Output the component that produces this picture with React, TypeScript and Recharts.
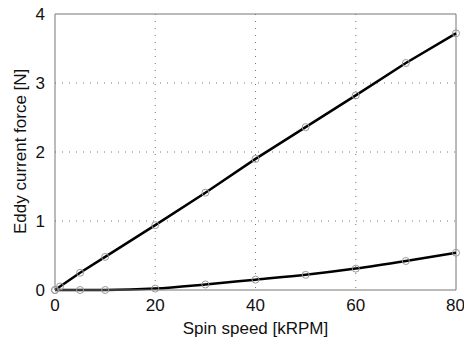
import { LineChart, Line, XAxis, YAxis, CartesianGrid, ReferenceLine } from "recharts"

const speedUpper = [0, 1, 5, 10, 20, 30, 40, 50, 60, 70, 80]
const forceUpper = [0, 0.05, 0.25, 0.48, 0.94, 1.41, 1.9, 2.36, 2.82, 3.29, 3.72]
const speedLower = [0, 5, 10, 20, 30, 40, 50, 60, 70, 80]
const forceLower = [0, 0, 0, 0.02, 0.08, 0.15, 0.22, 0.31, 0.42, 0.54]

const xTicks = [0, 20, 40, 60, 80]
const yTicks = [0, 1, 2, 3, 4]

const upper = speedUpper.map((x, i) => ({ x, y: forceUpper[i] }))
const lower = speedLower.map((x, i) => ({ x, y: forceLower[i] }))

const FONT = "'Liberation Sans', Arial, sans-serif"
const dot = { r: 3.5, stroke: "#999", strokeWidth: 1, fill: "none" }

export default function App() {
  return (
    <div style={{ position: "absolute", left: 0, top: 0, fontFamily: FONT }}>
      <LineChart width={464} height={341} margin={{ top: 14, right: 8, left: 0, bottom: 0 }}>
        <CartesianGrid xAxisId="b" yAxisId="l" stroke="#777" strokeDasharray="1 6" horizontalValues={[1, 2, 3]} verticalValues={[20, 40, 60]} />
        <XAxis
          xAxisId="b"
          type="number"
          dataKey="x"
          domain={[0, 80]}
          ticks={xTicks}
          height={51}
          tickLine={false}
          axisLine={{ stroke: "#777" }}
          tick={{ fill: "#111", fontSize: 17, fontFamily: FONT }}
          tickMargin={3}
          label={{ value: "Spin speed [kRPM]", position: "insideBottom", offset: 7, fill: "#111", fontSize: 17, fontFamily: FONT }}
        />
        <YAxis
          yAxisId="l"
          type="number"
          domain={[0, 4]}
          ticks={yTicks}
          width={55}
          tickLine={false}
          axisLine={{ stroke: "#777" }}
          tick={{ fill: "#111", fontSize: 17, fontFamily: FONT }}
          tickMargin={4}
          label={{ value: "Eddy current force [N]", angle: -90, position: "insideLeft", offset: 20, dy: 82, fill: "#111", fontSize: 17, fontFamily: FONT }}
        />
        <ReferenceLine xAxisId="b" yAxisId="l" y={4} stroke="#777" ifOverflow="visible" />
        <ReferenceLine xAxisId="b" yAxisId="l" x={80} stroke="#777" ifOverflow="visible" />
        <Line xAxisId="b" yAxisId="l" data={upper} dataKey="y" stroke="#000" strokeWidth={2.5} dot={dot} isAnimationActive={false} />
        <Line xAxisId="b" yAxisId="l" data={lower} dataKey="y" stroke="#000" strokeWidth={2.5} dot={dot} type="monotone" isAnimationActive={false} />
      </LineChart>
    </div>
  )
}
